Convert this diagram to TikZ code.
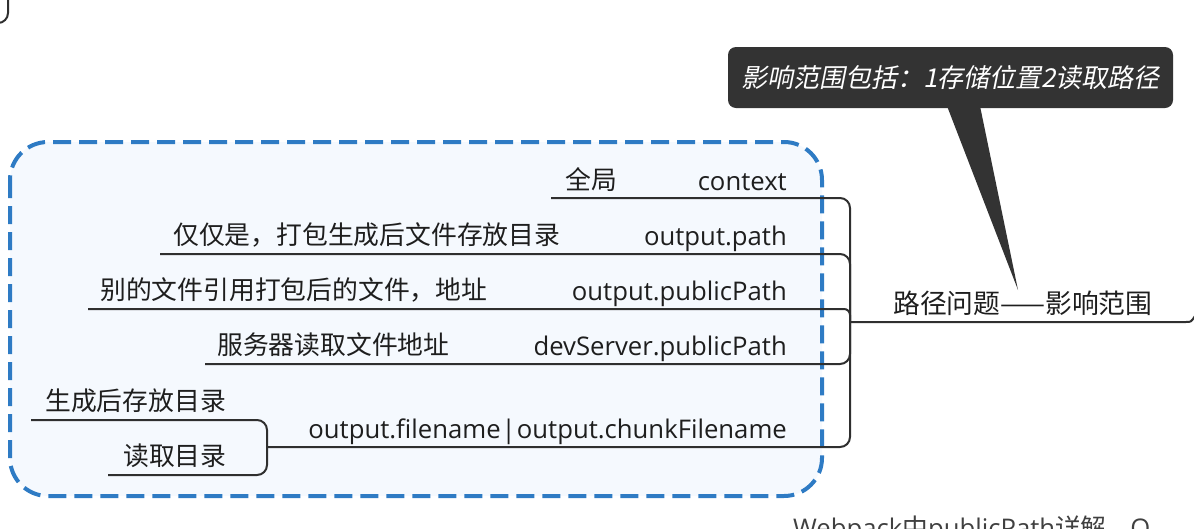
\documentclass[tikz,border=0pt]{standalone}
\usepackage{fontspec}
\setmainfont{Open Sans}
\newfontfamily\cjk{Noto Sans CJK SC}
\newfontfamily\cjkit[FakeSlant=0.2]{Noto Sans CJK SC}
\definecolor{ink}{HTML}{1E1E1E}
\definecolor{linec}{HTML}{2F2F2F}
\definecolor{boxblue}{HTML}{2E7BC4}
\definecolor{boxfill}{HTML}{F5F9FE}
\definecolor{notefill}{HTML}{333333}
\tikzset{
  lat/.style={font=\fontsize{25.7}{28}\selectfont, text=ink, inner sep=0pt},
  han/.style={font=\cjk\fontsize{25.8}{28}\selectfont, text=ink, inner sep=0pt},
  ln/.style={draw=linec, line width=2pt, rounded corners=10pt},
  groupbox/.style={draw=boxblue, line width=4pt, dash pattern=on 18pt off 8pt, fill=boxfill, rounded corners=38pt},
  notebox/.style={fill=notefill, rounded corners=8pt, text=white, font=\cjkit\fontsize{26}{28}\selectfont, minimum width=445pt, minimum height=61pt, inner sep=0pt}
}
\begin{document}
\begin{tikzpicture}[x=1pt,y=-1pt]
\useasboundingbox (0,0) rectangle (1194,528);
\clip (0,0) rectangle (1194,528);

% fragment of a previous element at top left
\draw[ln] (8,-6) -- (8,23) -- (-6,23);

% dashed group boundary
\path[groupbox] (10,142) rectangle (822,496);

% callout
\node[notebox] (note) at (950.5,77.5) {影响范围包括：1存储位置2读取路径};
\coordinate (tip) at (1018,290);
\fill[notefill] (947,106) -- (tip) -- (980,106) -- cycle;

% hub and root
\coordinate (hub) at (850,322);
\node[han, anchor=base west, font=\cjk\fontsize{26.8}{28}\selectfont] (root) at (893,313) {路径问题——影响范围};
\coordinate (rootend) at (1186,322);
\draw[ln, rounded corners=0pt] (hub) -- (rootend) .. controls (1191,322) .. (1195,316);

% first-level children (right aligned at 787)
\node[lat, anchor=base east] (ctx) at (787,190) {context};
\node[lat, anchor=base east] (opath) at (787,245) {output.path};
\node[lat, anchor=base east] (opub) at (787,300) {output.publicPath};
\node[lat, anchor=base east] (dev) at (787,355) {devServer.publicPath};
\node[lat, anchor=base east] (ofile) at (787,438) {output.filename{\kern1pt}|{\kern1pt}output.chunkFilename};

% second-level children
\node[han, anchor=base west] (qj) at (565,189) {全局};
\node[han, anchor=base west] (jj) at (173,244) {仅仅是，打包生成后文件存放目录};
\node[han, anchor=base west] (bd) at (100,299) {别的文件引用打包后的文件，地址};
\node[han, anchor=base west] (fw) at (217,354) {服务器读取文件地址};
\node[han, anchor=base west] (sc) at (45,410) {生成后存放目录};
\node[han, anchor=base west] (dq) at (123,465) {读取目录};

% underline start points
\coordinate (u1) at (551,198);
\coordinate (u2) at (160,254);
\coordinate (u3) at (88,309);
\coordinate (u4) at (205,364);
\coordinate (brace) at (267,447);
\coordinate (g1) at (31,420);
\coordinate (g2) at (108,475);

% connectors
\draw[ln] (u1) -| (hub);
\draw[ln] (u2) -| (hub);
\draw[ln, rounded corners=6pt] (u3) -| (hub);
\draw[ln] (u4) -| (hub);
\draw[ln] (brace) -| (hub);
\draw[ln] (g1) -| (brace);
\draw[ln] (g2) -| (brace);

% cut-off text at the bottom (the reference shows only its upper half)
\node[lat, anchor=base west, text=ink!85] (more) at (793,537) {Webpack{\cjk 中}publicPath{\cjk 详解}\hspace{0.3em}-\hspace{0.3em}O};
\end{tikzpicture}
\end{document}
